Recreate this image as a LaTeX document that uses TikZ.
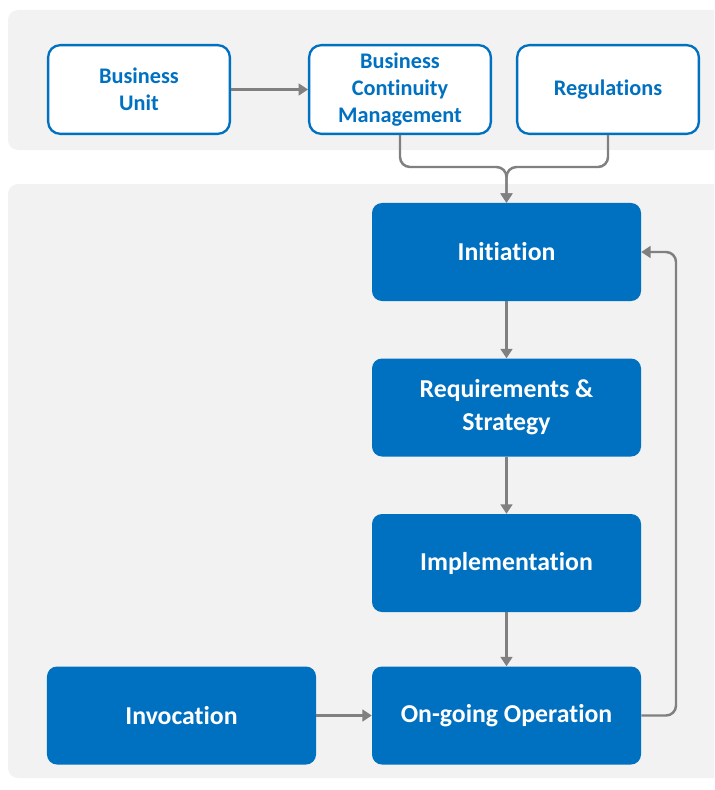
\documentclass[tikz,border=0pt]{standalone}
\usepackage{fontspec}
\setmainfont{Carlito}[Ligatures=NoCommon]
\usetikzlibrary{arrows.meta}

\definecolor{bcmblue}{RGB}{0,112,192}
\definecolor{panelgray}{RGB}{242,242,242}
\definecolor{linkgray}{RGB}{128,128,128}

\tikzset{
    panel/.style={fill=panelgray, rounded corners=0.3cm},
    sourcebox/.style={draw=bcmblue, line width=2pt, fill=white, rounded corners=0.36cm,
        minimum width=5.45cm, minimum height=2.66cm, inner sep=0pt, align=center,
        text=bcmblue, font=\fontsize{19}{23}\selectfont\bfseries},
    phasebox/.style={fill=bcmblue, rounded corners=0.3cm,
        minimum width=8.07cm, minimum height=2.94cm, inner sep=0pt, align=center,
        text=white, font=\fontsize{22}{28}\selectfont\bfseries},
    flow/.style={draw=linkgray, line width=2.1pt, rounded corners=0.3cm,
        -{Triangle[length=8pt,width=10pt]}}
}

\begin{document}
\begin{tikzpicture}[x=0.03cm, y=-0.03cm]
    \clip (0,0) rectangle (714,790);

    % Background panels
    \fill[panel] (8,10) rectangle (740,150);
    \fill[panel] (8,184) rectangle (740,778);

    % Inputs
    \node[sourcebox] (unit) at (139,89.5) {Business\\Unit};
    \node[sourcebox] (bcm) at (400,89.5) {Business\\Continuity\\Management};
    \node[sourcebox] (regs) at (608,89.5) {Regulations};

    % Lifecycle phases
    \node[phasebox] (init) at (506.5,252) {Initiation};
    \node[phasebox] (reqs) at (506.5,407.5) {Requirements \&\\Strategy};
    \node[phasebox] (impl) at (506.5,563) {Implementation};
    \node[phasebox] (oper) at (506.5,715.5) {On-going Operation};
    \node[phasebox] (invo) at (181.5,715.5) {Invocation};

    % Helper points
    \coordinate (join) at (506.5,167);
    \coordinate (back) at (676,252);

    % Connectors
    \draw[flow] (unit) -- (bcm);
    \draw[flow] (bcm.south) |- (join) -- (init.north);
    \draw[flow] (regs.south) |- (join) -- (init.north);
    \draw[flow] (init) -- (reqs);
    \draw[flow] (reqs) -- (impl);
    \draw[flow] (impl) -- (oper);
    \draw[flow] (invo) -- (oper);
    \draw[flow] (oper.east) -| (back) -- (init.east);
\end{tikzpicture}
\end{document}
